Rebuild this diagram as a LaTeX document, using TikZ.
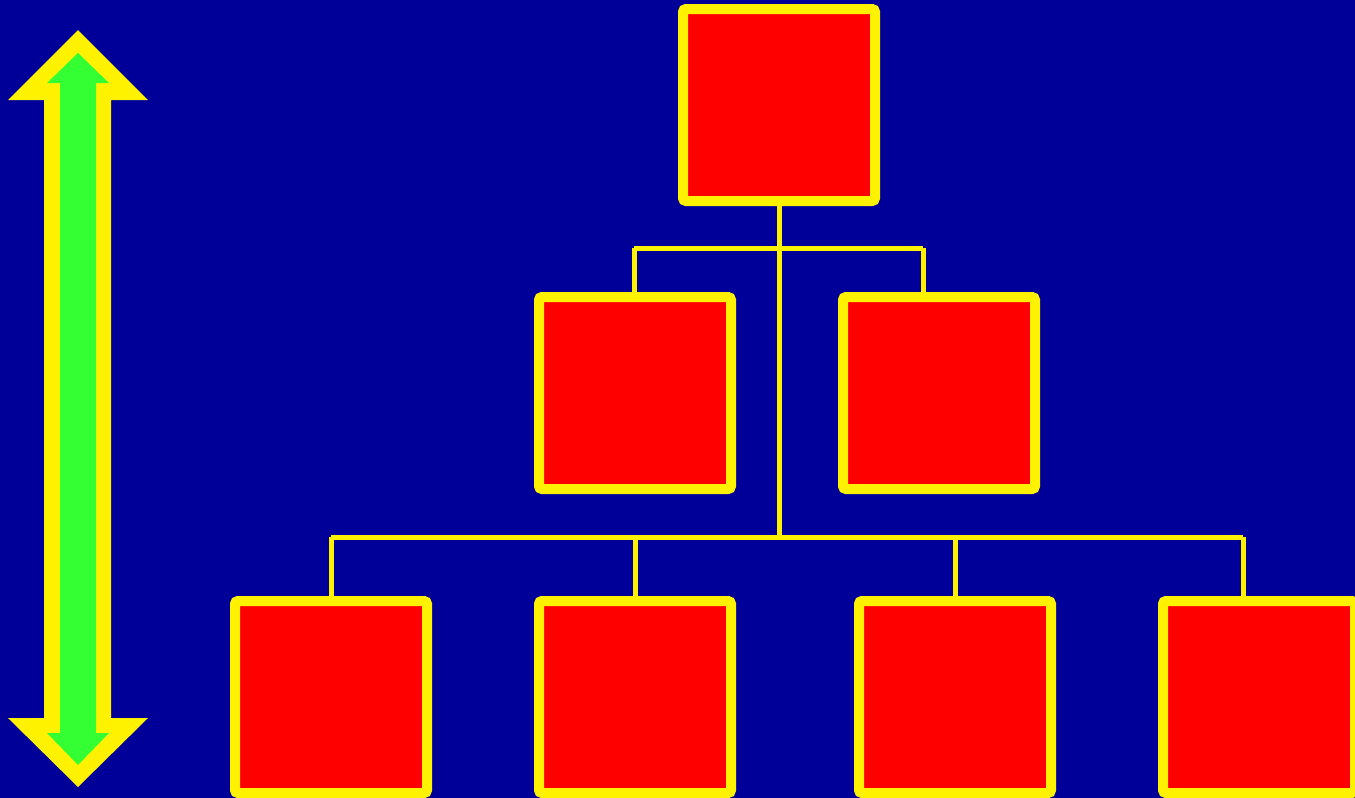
\documentclass[tikz,border=0pt]{standalone}
\begin{document}
\begin{tikzpicture}[x=0.5pt,y=-0.5pt,
  box/.style={draw=yellow,fill=red,line width=5pt,rounded corners=1.5pt,
    minimum width=96pt,minimum height=96pt,inner sep=0pt},
  conn/.style={draw=yellow,line width=2.5pt}]
\definecolor{bgblue}{RGB}{0,0,153}
\definecolor{arrgreen}{RGB}{51,255,51}
\fill[bgblue] (0,0) rectangle (1355,798);
\useasboundingbox (0,0) rectangle (1355,798);
% double arrow
\fill[yellow] (78,30) -- (148,100) -- (111,100) -- (111,718) -- (148,718) -- (78,787)
  -- (8,718) -- (44,718) -- (44,100) -- (8,100) -- cycle;
\fill[arrgreen] (78,53) -- (109,83) -- (96,83) -- (96,733) -- (109,733) -- (78,765)
  -- (47,733) -- (60,733) -- (60,83) -- (47,83) -- cycle;
% boxes
\node[box] (top) at (779,105) {};
\node[box] (ml) at (635,393) {};
\node[box] (mr) at (939,393) {};
\node[box] (b1) at (331,697) {};
\node[box] (b2) at (635,697) {};
\node[box] (b3) at (955,697) {};
\node[box] (b4) at (1259,697) {};
% connectors
\coordinate (h1l) at (634,248);
\coordinate (h1r) at (923,248);
\coordinate (h2l) at (331,537);
\coordinate (h2r) at (1243,537);
\draw[conn] (top.south) -- (top.south |- h2l);
\draw[conn] (h1l) -- (h1r);
\draw[conn] (h1l) -- (h1l |- ml.north);
\draw[conn] (h1r) -- (h1r |- mr.north);
\draw[conn] (h2l) -- (h2r);
\draw[conn] (h2l) -- (b1.north);
\draw[conn] (b2.north |- h2l) -- (b2.north);
\draw[conn] (b3.north |- h2l) -- (b3.north);
\draw[conn] (h2r) -- (h2r |- b4.north);
\end{tikzpicture}
\end{document}
